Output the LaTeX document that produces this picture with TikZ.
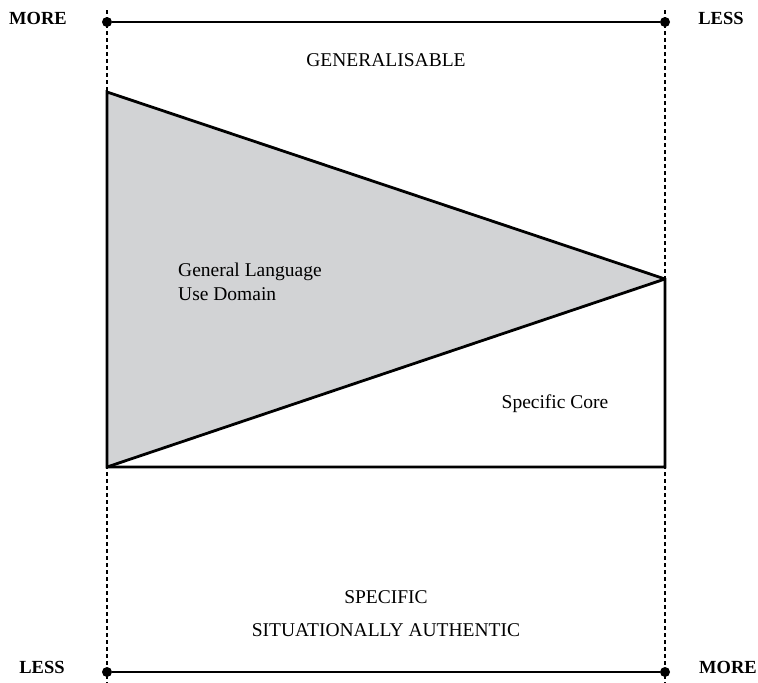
\documentclass[tikz,border=0pt]{standalone}
\usepackage{fontspec}
\setmainfont{Liberation Serif}
\definecolor{domaingray}{RGB}{210,211,213}
\begin{document}
\begin{tikzpicture}[x=1pt,y=-1pt,
  label/.style={inner sep=0pt,font=\fontsize{19.5}{23}\selectfont},
  endlabel/.style={inner sep=0pt,font=\fontsize{18.5}{22}\selectfont\bfseries},
  guide/.style={line width=1.3pt,dash pattern=on 4pt off 3pt},
  axis/.style={line width=1.5pt},
  outline/.style={line width=2.8pt,line join=miter},
  enddot/.style={circle,fill=black,inner sep=0pt,minimum size=10pt}]
\useasboundingbox (0,0) rectangle (758,683);

% dashed guides at both ends of the scale
\coordinate (gl1) at (107,10);
\coordinate (gl2) at (107,683);
\coordinate (gr1) at (665,10);
\coordinate (gr2) at (665,683);
\draw[guide] (gl1) -- (gl2);
\draw[guide] (gr1) -- (gr2);

% shaded wedge and the specific core
\coordinate (tl) at (107,92);
\coordinate (tip) at (665,279);
\coordinate (bl) at (107,467);
\coordinate (br) at (665,467);
\fill[domaingray] (tl) -- (tip) -- (bl) -- cycle;
\draw[outline] (tl) -- (tip) -- (br) -- (bl) -- cycle;
\draw[outline] (bl) -- (tip);

% top and bottom scales
\node[enddot] (t1) at (107,22) {};
\node[enddot] (t2) at (665,22) {};
\node[enddot] (b1) at (107,672) {};
\node[enddot] (b2) at (665,672) {};
\draw[axis] (t1) -- (t2);
\draw[axis] (b1) -- (b2);

\node[endlabel] (tm) at (38,18) {MORE};
\node[endlabel] (tls) at (721,18) {LESS};
\node[endlabel] (bls) at (42,667) {LESS};
\node[endlabel] (bm) at (728,667) {MORE};

% region labels
\node[label] (gen) at (386,60) {GENERALISABLE};
\node[label,anchor=base west] (gl) at (178,276) {General Language};
\node[label,anchor=base west] (ud) at (178,300) {Use Domain};
\node[label,anchor=base] (sc) at (555,408) {Specific Core};
\node[label] (sp) at (386,597) {SPECIFIC};
\node[label] (sa) at (386,630) {SITUATIONALLY AUTHENTIC};
\end{tikzpicture}
\end{document}
